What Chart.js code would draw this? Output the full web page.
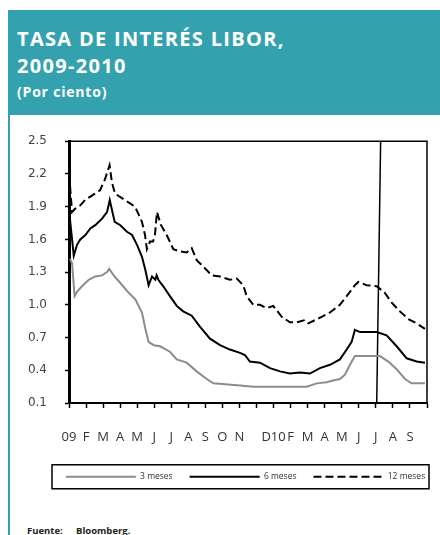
<!DOCTYPE html>
<html>
<head>
<meta charset="utf-8">
<script src="https://cdn.jsdelivr.net/npm/chart.js@4"></script>
<style>
  html, body { margin: 0; padding: 0; background: #fff; }
  body { width: 440px; height: 535px; position: relative; overflow: hidden; font-family: "Open Sans", sans-serif; }
  #head { position: absolute; left: 8px; top: 10px; width: 432px; height: 105px; background: #34a2ae; }
  #stripe { position: absolute; left: 8px; top: 115px; width: 2px; height: 420px; background: #34a2ae; }
  .t1 { position: absolute; left: 17px; color: #fff; font-weight: 700; font-size: 20px; line-height: 27px; letter-spacing: 1.3px; white-space: nowrap; }
  .t2 { position: absolute; left: 17px; top: 82px; color: #fff; font-weight: 700; font-size: 14px; line-height: 19px; letter-spacing: 0.8px; white-space: nowrap; }
  #wrap { position: absolute; left: 0; top: 116px; width: 440px; height: 380px; }
  .src { position: absolute; top: 525px; font-size: 9.5px; font-weight: 700; color: #222; white-space: pre; line-height: 11px; }
</style>
</head>
<body>
<div id="head"></div>
<div id="stripe"></div>
<div class="t1" style="top:25px">TASA DE INTERÉS LIBOR,</div>
<div class="t1" style="top:52px">2009-2010</div>
<div class="t2">(Por ciento)</div>
<div id="wrap"><canvas id="c" width="440" height="380"></canvas></div>
<div class="src" style="left:27px">Fuente:</div>
<div class="src" style="left:76px">Bloomberg.</div>
<script>
// x = months since Jan 2009 (0 = start of Jan 2009)
const monthLabels = ["09","F","M","A","M","J","J","A","S","O","N","","D10","F","M","A","M","J","J","A","S"];
const yTickValues = [0.1, 0.4, 0.7, 1.0, 1.3, 1.6, 1.9, 2.2, 2.5];
const seriesNames = ["3 meses", "6 meses", "12 meses"];

const months3 = [0.06,0.18,0.33,0.47,0.76,1.16,1.54,1.94,2.23,2.36,2.62,3.01,3.50,3.89,4.28,4.48,4.67,4.97,5.34,5.92,6.32,6.90,7.49,8.08,8.47,10.03,10.81,13.94,14.53,15.11,15.60,15.89,16.19,16.48,16.77,18.24,18.73,19.22,19.71,20.10,20.88];
const rates3  = [1.42,1.38,1.08,1.12,1.17,1.23,1.26,1.27,1.30,1.33,1.27,1.20,1.11,1.05,0.93,0.78,0.66,0.63,0.62,0.57,0.50,0.47,0.39,0.32,0.28,0.26,0.25,0.25,0.28,0.29,0.31,0.32,0.36,0.45,0.53,0.53,0.48,0.41,0.32,0.28,0.28];

const months6 = [0.06,0.28,0.47,0.66,0.96,1.25,1.54,1.94,2.23,2.39,2.52,2.68,3.01,3.40,3.70,3.99,4.28,4.48,4.67,4.87,5.06,5.14,5.24,5.53,5.92,6.32,6.70,7.20,7.68,8.27,8.86,9.44,10.03,10.32,10.61,11.20,11.79,12.38,12.96,13.55,14.13,14.72,15.31,15.89,16.29,16.58,16.77,17.07,18.05,18.63,19.22,19.81,20.39,20.88];
const rates6  = [1.78,1.45,1.55,1.60,1.64,1.70,1.73,1.79,1.85,1.96,1.87,1.76,1.73,1.67,1.64,1.55,1.44,1.32,1.18,1.26,1.23,1.27,1.23,1.17,1.08,0.99,0.94,0.90,0.80,0.69,0.63,0.59,0.56,0.54,0.48,0.47,0.42,0.39,0.37,0.38,0.37,0.42,0.45,0.50,0.59,0.66,0.77,0.75,0.75,0.72,0.62,0.51,0.48,0.47];

const months12 = [0.06,0.18,0.35,0.65,0.94,1.23,1.52,1.82,2.11,2.38,2.52,2.70,2.99,3.28,3.58,3.87,4.11,4.28,4.46,4.57,4.75,4.93,5.04,5.16,5.40,5.73,6.12,6.51,6.90,7.20,7.49,7.88,8.37,8.86,9.44,9.84,10.22,10.42,10.81,11.20,11.60,11.98,12.48,12.96,13.36,13.84,14.04,14.43,14.82,15.31,15.89,16.29,16.77,16.97,17.46,18.05,18.53,18.93,19.41,19.90,20.39,20.88];
const rates12  = [2.09,1.85,1.88,1.91,1.96,1.99,2.02,2.05,2.15,2.28,2.12,2.02,1.99,1.96,1.93,1.90,1.82,1.76,1.64,1.51,1.58,1.58,1.64,1.85,1.73,1.64,1.51,1.49,1.48,1.52,1.41,1.35,1.27,1.26,1.23,1.24,1.18,1.08,1.00,1.00,0.97,0.99,0.89,0.84,0.84,0.86,0.83,0.86,0.89,0.93,1.00,1.08,1.18,1.21,1.18,1.17,1.11,1.02,0.94,0.87,0.83,0.78];

// vertical reference line (date marker) as two points
const markerMonths = [18.28, 18.05];
const markerRates  = [2.5, 0.1];

const pts = (xs, ys) => xs.map((x, i) => ({x: x, y: ys[i]}));

const frame = {
  id: 'frame',
  afterDraw(chart) {
    const {ctx, chartArea: a} = chart;
    ctx.save();
    ctx.strokeStyle = '#000';
    ctx.lineWidth = 1.5;
    ctx.beginPath();
    ctx.moveTo(a.left, a.top);
    ctx.lineTo(a.right, a.top);
    ctx.lineTo(a.right, a.bottom);
    ctx.stroke();
    const lg = chart.legend;
    if (lg && lg.legendHitBoxes && lg.legendHitBoxes.length) {
      const hb = lg.legendHitBoxes[0];
      const cy = hb.top + hb.height / 2;
      ctx.strokeRect(a.left - 17, cy - 12, (a.right + 2) - (a.left - 17), 24);
    }
    ctx.restore();
  }
};

const shiftLegend = {
  id: 'shiftLegend',
  afterLayout(chart) {
    const lg = chart.legend;
    const d = 32;
    lg.left += d; lg.right += d;
    if (lg.legendHitBoxes) lg.legendHitBoxes.forEach(h => h.left += d);
  }
};

new Chart(document.getElementById('c'), {
  type: 'line',
  data: {
    datasets: [
      { label: seriesNames[0], data: pts(months3, rates3), borderColor: '#8c8c8c', backgroundColor: '#8c8c8c', borderWidth: 2 },
      { label: seriesNames[1], data: pts(months6, rates6), borderColor: '#000', backgroundColor: '#000', borderWidth: 2 },
      { label: seriesNames[2], data: pts(months12, rates12), borderColor: '#000', backgroundColor: '#000', borderWidth: 2, borderDash: [8, 4] },
      { label: 'marker', data: pts(markerMonths, markerRates), borderColor: '#000', borderWidth: 1.5 }
    ]
  },
  options: {
    responsive: false,
    animation: false,
    events: [],
    elements: { point: { radius: 0 }, line: { tension: 0 } },
    layout: { padding: { left: 0, right: 13, top: 17, bottom: 5 } },
    plugins: {
      tooltip: { enabled: false },
      legend: {
        position: 'bottom',
        labels: {
          usePointStyle: true, pointStyle: 'line', pointStyleWidth: 70, boxWidth: 70, padding: 17,
          color: '#333', font: { family: 'Open Sans', size: 8.5 },
          filter: (item) => item.datasetIndex < 3,
          generateLabels(chart) {
            const items = Chart.defaults.plugins.legend.labels.generateLabels(chart);
            items.forEach(it => {
              const ds = chart.data.datasets[it.datasetIndex];
              it.lineDash = ds.borderDash || [];
              it.lineWidth = ds.borderWidth;
              it.strokeStyle = ds.borderColor;
            });
            return items;
          }
        }
      }
    },
    scales: {
      x: {
        type: 'linear', min: 0, max: 21,
        afterFit(s) { s.height = 52.5; s.paddingRight = 0; s.paddingLeft = 0; },
        afterBuildTicks(s) { s.ticks = monthLabels.map((_, i) => ({value: i})).concat([{value: 21}]); },
        ticks: {
          autoSkip: false, maxRotation: 0, padding: 21, color: '#333',
          font: { family: 'Open Sans', size: 13 },
          callback: (v) => (monthLabels[v] !== undefined ? monthLabels[v] : '')
        },
        grid: { drawOnChartArea: false, drawTicks: true, tickLength: 5, tickColor: '#000', tickWidth: 1.5 },
        border: { display: true, color: '#000', width: 2 }
      },
      y: {
        min: 0.1, max: 2.5,
        afterFit(s) { s.width = 69; },
        afterBuildTicks(s) { s.ticks = yTickValues.map(v => ({value: v})); },
        ticks: { padding: 18, color: '#444', font: { family: 'DejaVu Sans', size: 12 }, callback: (v) => Number(v).toFixed(1) },
        grid: { drawOnChartArea: false, drawTicks: true, tickLength: 4, tickColor: '#000', tickWidth: 1.5 },
        border: { display: true, color: '#000', width: 3 }
      }
    }
  },
  plugins: [shiftLegend, frame]
});
</script>
</body>
</html>
